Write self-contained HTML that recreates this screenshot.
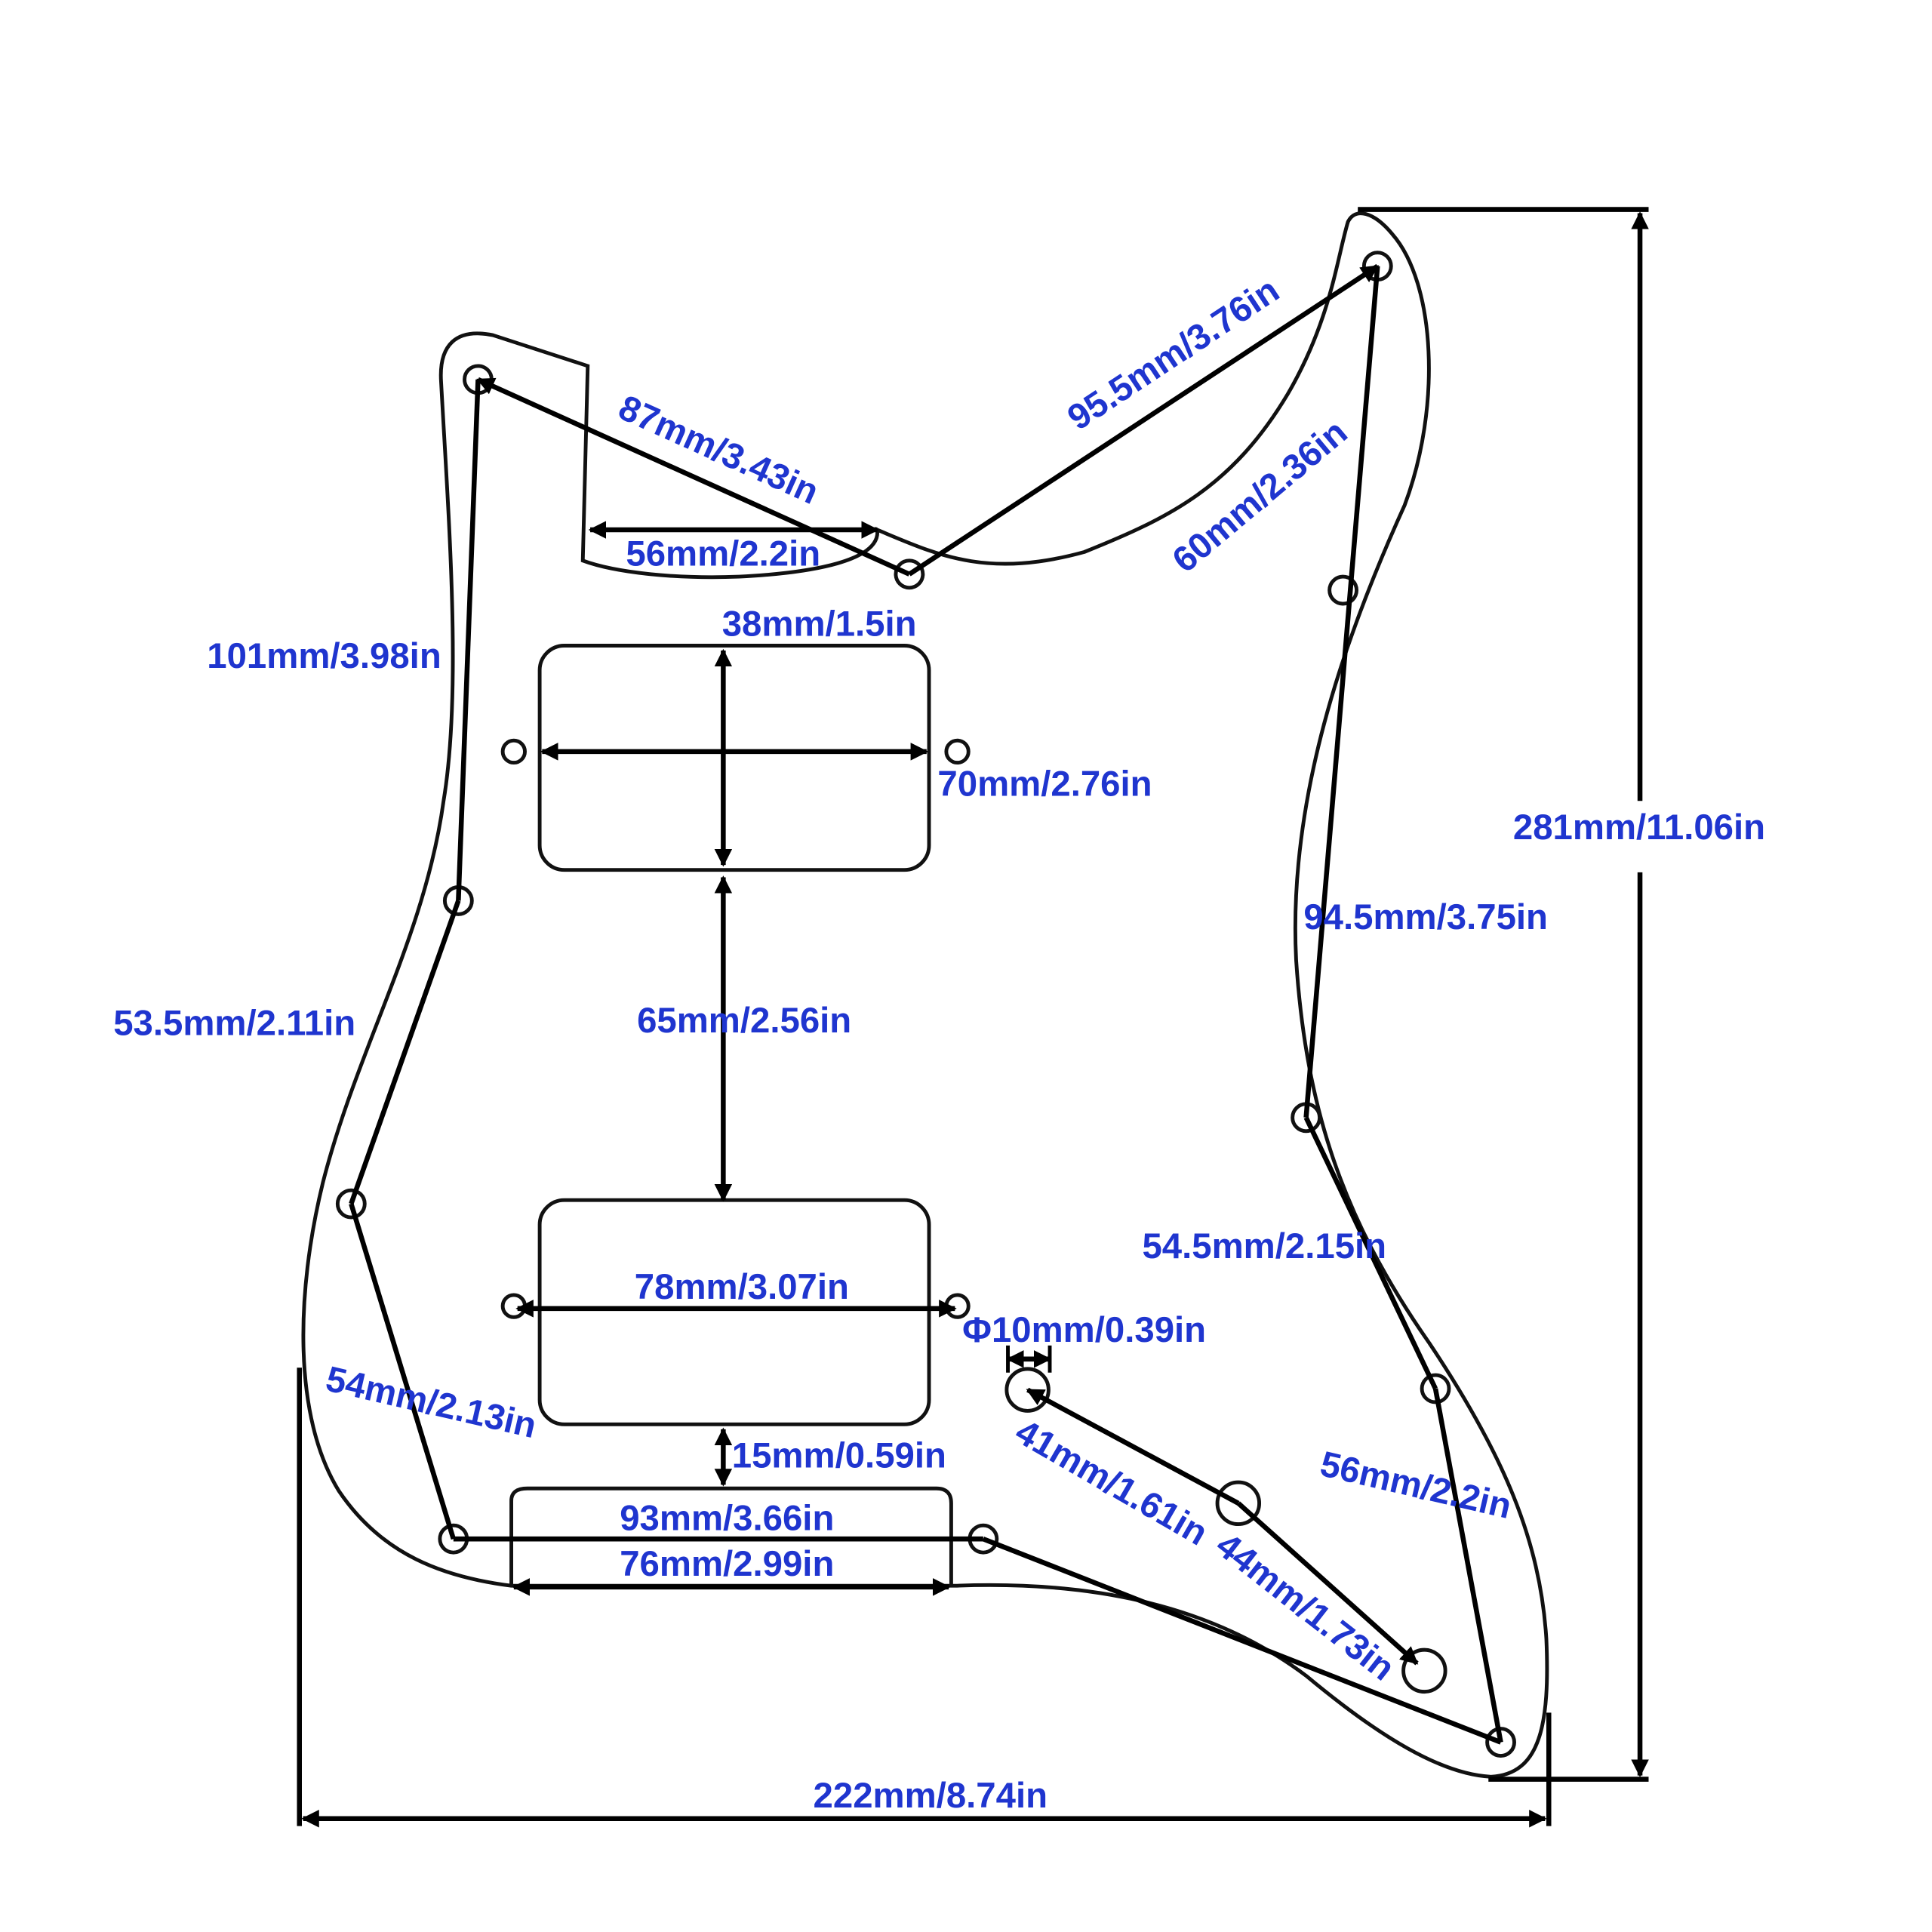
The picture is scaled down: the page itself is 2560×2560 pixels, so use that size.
<!DOCTYPE html>
<html><head><meta charset="utf-8"><style>
html,body{margin:0;padding:0;background:#fff;}
svg{display:block;}
text{font-family:"Liberation Sans",sans-serif;font-weight:bold;fill:#1f35cf;font-size:29px;}
</style></head><body>
<svg width="2560" height="2560" viewBox="0 0 1568 1568" xmlns="http://www.w3.org/2000/svg">
<defs>
<marker id="a" viewBox="0 0 10 10" refX="9" refY="5" markerWidth="3.6" markerHeight="3.6" orient="auto-start-reverse"><path d="M0,0 L10,5 L0,10 z" fill="#000"/></marker>
</defs>
<rect width="1568" height="1568" fill="#fff"/>
<g fill="none" stroke="#111" stroke-width="3">
<path d="M477,297 L400,272 C370,266 356,280 358,310 C364,420 375,560 360,650 C345,760 290,850 262,960 C240,1050 238,1150 275,1210 C310,1262 360,1280 415,1287 L775,1287 C880,1283 980,1300 1060,1360 C1120,1410 1170,1440 1210,1442 C1250,1440 1258,1400 1255,1330 C1250,1250 1220,1180 1160,1090 C1090,990 1060,900 1052,780 C1045,650 1090,520 1140,410 C1170,330 1165,230 1130,190 C1115,172 1100,168 1094,180 C1085,210 1080,260 1045,320 C1000,395 950,420 880,448 C800,470 760,450 712,430 C715,455 660,465 600,468 C550,470 500,465 473,455 Z"/>
<rect x="438" y="524" width="316" height="182" rx="20"/>
<rect x="438" y="974" width="316" height="182" rx="20"/>
<path d="M415,1287 L415,1218 Q415,1208 428,1208 L760,1208 Q772,1208 772,1220 L772,1287"/>
<circle cx="417" cy="610" r="9"/><circle cx="777" cy="610" r="9"/>
<circle cx="417" cy="1060" r="9"/><circle cx="777" cy="1060" r="9"/>
<circle cx="388" cy="308" r="11"/><circle cx="738" cy="466" r="11"/>
<circle cx="1118" cy="216" r="11"/><circle cx="1090" cy="479" r="11"/>
<circle cx="1060" cy="907" r="11"/><circle cx="1165" cy="1127" r="11"/>
<circle cx="1218" cy="1414" r="11"/><circle cx="372" cy="731" r="11"/>
<circle cx="285" cy="977" r="11"/><circle cx="368" cy="1249" r="11"/>
<circle cx="798" cy="1249" r="11"/>
<circle cx="834" cy="1128" r="17"/><circle cx="1005" cy="1220" r="17"/><circle cx="1156" cy="1356" r="17"/>
</g>
<g fill="none" stroke="#000" stroke-width="4">
<line x1="388" y1="308" x2="738" y2="466" marker-start="url(#a)"/>
<line x1="738" y1="466" x2="1118" y2="216" marker-end="url(#a)"/>
<line x1="1118" y1="216" x2="1060" y2="907"/>
<line x1="1060" y1="907" x2="1165" y2="1127"/>
<line x1="1165" y1="1127" x2="1218" y2="1414"/>
<line x1="1218" y1="1414" x2="798" y2="1249"/>
<line x1="388" y1="308" x2="372" y2="731"/>
<line x1="372" y1="731" x2="285" y2="977"/>
<line x1="285" y1="977" x2="368" y2="1249"/>
<line x1="368" y1="1249" x2="798" y2="1249"/>
<line x1="834" y1="1128" x2="1005" y2="1220" marker-start="url(#a)"/>
<line x1="1005" y1="1220" x2="1150" y2="1350" marker-end="url(#a)"/>
<line x1="479" y1="430" x2="712" y2="430" marker-start="url(#a)" marker-end="url(#a)"/>
<line x1="440" y1="610" x2="752" y2="610" marker-start="url(#a)" marker-end="url(#a)"/>
<line x1="587" y1="528" x2="587" y2="702" marker-start="url(#a)" marker-end="url(#a)"/>
<line x1="587" y1="712" x2="587" y2="974" marker-start="url(#a)" marker-end="url(#a)"/>
<line x1="420" y1="1062" x2="775" y2="1062" marker-start="url(#a)" marker-end="url(#a)"/>
<line x1="587" y1="1160" x2="587" y2="1205" marker-start="url(#a)" marker-end="url(#a)"/>
<line x1="417" y1="1288" x2="770" y2="1288" marker-start="url(#a)" marker-end="url(#a)"/>
<line x1="818" y1="1103" x2="852" y2="1103" marker-start="url(#a)" marker-end="url(#a)"/>
<line x1="818" y1="1092" x2="818" y2="1114" stroke-width="3"/><line x1="852" y1="1092" x2="852" y2="1114" stroke-width="3"/>
<line x1="1102" y1="170" x2="1338" y2="170"/>
<line x1="1208" y1="1444" x2="1338" y2="1444"/>
<line x1="1331" y1="173" x2="1331" y2="650" marker-start="url(#a)"/>
<line x1="1331" y1="708" x2="1331" y2="1441" marker-end="url(#a)"/>
<line x1="243" y1="1110" x2="243" y2="1482"/>
<line x1="1257" y1="1390" x2="1257" y2="1482"/>
<line x1="246" y1="1476" x2="1254" y2="1476" marker-start="url(#a)" marker-end="url(#a)"/>
</g>
<text x="500" y="338" transform="rotate(24.3 500 338)">87mm/3.43in</text>
<text x="508" y="459">56mm/2.2in</text>
<text x="875" y="350" transform="rotate(-33.5 875 350)">95.5mm/3.76in</text>
<text x="962" y="466" transform="rotate(-40 962 466)">60mm/2.36in</text>
<text x="586" y="516">38mm/1.5in</text>
<text x="168" y="542">101mm/3.98in</text>
<text x="761" y="646">70mm/2.76in</text>
<text x="1228" y="681">281mm/11.06in</text>
<text x="1058" y="754">94.5mm/3.75in</text>
<text x="92" y="840">53.5mm/2.11in</text>
<text x="517" y="838">65mm/2.56in</text>
<text x="927" y="1021">54.5mm/2.15in</text>
<text x="515" y="1054">78mm/3.07in</text>
<text x="781" y="1089">Φ10mm/0.39in</text>
<text x="263" y="1128" transform="rotate(13 263 1128)">54mm/2.13in</text>
<text x="822" y="1168" transform="rotate(30 822 1168)">41mm/1.61in</text>
<text x="1070" y="1197" transform="rotate(13 1070 1197)">56mm/2.2in</text>
<text x="594" y="1191">15mm/0.59in</text>
<text x="503" y="1242">93mm/3.66in</text>
<text x="985" y="1258" transform="rotate(38 985 1258)">44mm/1.73in</text>
<text x="503" y="1279">76mm/2.99in</text>
<text x="660" y="1467">222mm/8.74in</text>
</svg>
</body></html>
